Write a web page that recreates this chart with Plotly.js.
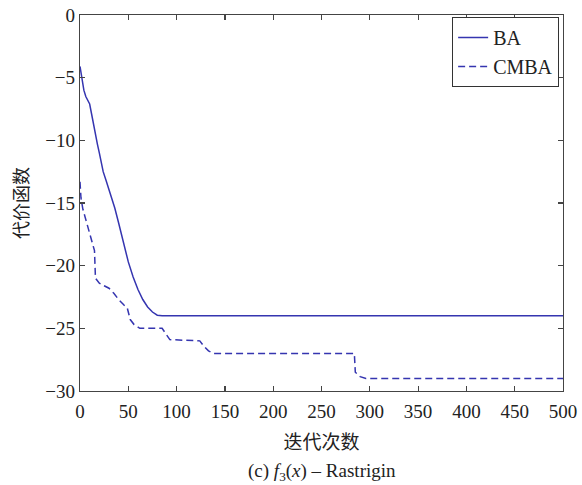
<!DOCTYPE html>
<html>
<head>
<meta charset="utf-8">
<script src="https://cdn.plot.ly/plotly-3.0.1.min.js"></script>
<style>html,body{margin:0;padding:0;background:#fff;}</style>
</head>
<body>
<div id="chart" style="width:582px;height:485px;"></div>
<script>
const baIter = [0,1,2,4,6,8,10,12,14,16,18,20,22,24,27,30,33,36,40,45,50,55,60,65,70,75,80,85,500];
const baCost = [-4.1,-4.6,-5.2,-6,-6.5,-6.8,-7.1,-7.9,-8.8,-9.6,-10.3,-11,-11.8,-12.5,-13.2,-13.9,-14.6,-15.4,-16.6,-18.2,-19.7,-20.9,-21.9,-22.7,-23.3,-23.7,-23.95,-24,-24];
const cmbaIter = [0,1,3,6,10,14,15,16,20,25,30,35,40,45,49,52,56,60,62,85,89,93,124,128,133,138,284,285,290,296,500];
const cmbaCost = [-13.3,-14.6,-15.5,-16.3,-17.5,-18.5,-18.8,-21,-21.4,-21.6,-21.8,-22.2,-22.7,-23.1,-23.4,-24.3,-24.7,-24.9,-25,-25,-25.5,-25.9,-26,-26.4,-26.8,-27,-27,-28.5,-28.85,-29,-29];
const xTicks = [0,50,100,150,200,250,300,350,400,450,500];
const yTicks = [0,-5,-10,-15,-20,-25,-30];
const seriesNames = ['BA','CMBA'];
const xTitle = '迭代次数';
const yTitle = '代价函数';
const caption = '(c) <i>f</i><sub>3</sub>(<i>x</i>) – Rastrigin';

const lineColor = '#3535b0';
const fontFam = 'Liberation Serif, Times New Roman, Noto Sans CJK SC, serif';

const traces = [
  {x: baIter, y: baCost, name: seriesNames[0], mode: 'lines', line: {color: lineColor, width: 1.5}},
  {x: cmbaIter, y: cmbaCost, name: seriesNames[1], mode: 'lines', line: {color: lineColor, width: 1.5, dash: '7px,4px'}}
];

const axisCommon = {
  showline: true, linecolor: '#444', linewidth: 1.3, mirror: 'ticks',
  ticks: 'inside', ticklen: 5, tickcolor: '#444', tickwidth: 1.2,
  showgrid: false, zeroline: false,
  tickfont: {family: fontFam, size: 19, color: '#222'}
};

const layout = {
  width: 582, height: 485,
  margin: {l: 80, r: 19, t: 15, b: 94},
  paper_bgcolor: '#fff', plot_bgcolor: '#fff',
  font: {family: fontFam, color: '#222'},
  showlegend: true,
  legend: {x: 0.992, y: 0.995, xanchor: 'right', yanchor: 'top', bgcolor: '#fff', bordercolor: '#333', borderwidth: 1,
           font: {family: fontFam, size: 20, color: '#222'}, tracegroupgap: 0},
  xaxis: Object.assign({}, axisCommon, {range: [0, 500], tickvals: xTicks, ticktext: xTicks.map(String), ticklabelstandoff: 3,
           title: {text: xTitle, font: {family: fontFam, size: 19, color: '#222'}, standoff: 14}}),
  yaxis: Object.assign({}, axisCommon, {range: [-30, 0], tickvals: yTicks,
           title: {text: yTitle, font: {family: fontFam, size: 18, color: '#222'}, standoff: 12}}),
  annotations: [{text: caption, xref: 'paper', yref: 'paper', x: 0.5, y: -0.215, xanchor: 'center', yanchor: 'middle',
                 showarrow: false, font: {family: fontFam, size: 19, color: '#222'}}]
};

Plotly.newPlot('chart', traces, layout, {displayModeBar: false, staticPlot: true});
</script>
</body>
</html>
